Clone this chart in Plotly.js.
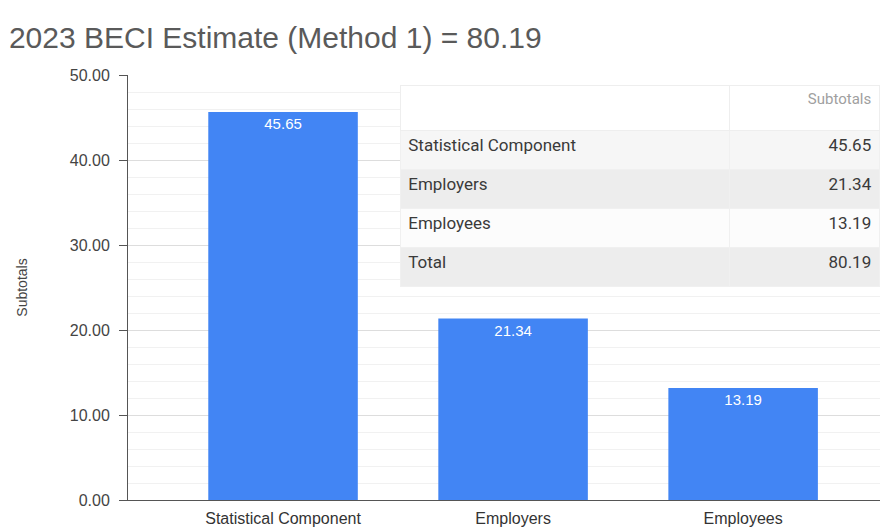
<!DOCTYPE html>
<html><head><meta charset="utf-8">
<script src="https://cdn.plot.ly/plotly-3.0.1.min.js"></script>
<style>html,body{margin:0;padding:0;background:#fff}#c{width:889px;height:532px}</style>
</head><body><div id="c"></div>
<script>
const categories = ["Statistical Component", "Employers", "Employees"];
const subtotals = [45.65, 21.34, 13.19];
const tableRows = ["Statistical Component", "Employers", "Employees", "Total"];
const tableValues = ["45.65", "21.34", "13.19", "80.19"];
const tableHeader = ["", "Subtotals"];
const titleText = "2023 BECI Estimate (Method 1) = 80.19";
const yTickVals = [0, 10, 20, 30, 40, 50];
const yTickText = ["0.00", "10.00", "20.00", "30.00", "40.00", "50.00"];

const bar = {
  type: "bar", x: [0, 1, 2], y: subtotals,
  text: subtotals.map(v => v.toFixed(2)),
  textposition: "inside", insidetextanchor: "end",
  textfont: {color: "#ffffff", size: 15, family: "Liberation Sans, Arial"},
  marker: {color: "#4285f4"}, width: 0.65, hoverinfo: "none"
};
const table = {
  type: "table",
  domain: {x: [0.362, 1.0], y: [0.494, 0.976]},
  columnwidth: [330, 150],
  header: {
    values: tableHeader, align: ["left", "right"], height: 45,
    fill: {color: "#ffffff"}, line: {color: "#eeeeee", width: 1},
    font: {color: "#a0a0a0", size: 15, family: "Roboto, Liberation Sans"}
  },
  cells: {
    values: [tableRows, tableValues], align: ["left", "right"], height: 39,
    fill: {color: [["#f6f6f6", "#ededed", "#fcfcfc", "#ededed"]]},
    line: {color: "#f0f0f0", width: 1},
    font: {color: "#3a3a3a", size: 17, family: "Roboto, Liberation Sans"}
  }
};
const layout = {
  width: 889, height: 532,
  margin: {l: 128, r: 9, t: 75, b: 32},
  paper_bgcolor: "#ffffff", plot_bgcolor: "#ffffff",
  showlegend: false,
  title: {text: titleText, x: 0.01, xanchor: "left", y: 0.929, yanchor: "middle",
    font: {size: 30, color: "#5a5a5a", family: "Liberation Sans, Arial"}},
  xaxis: {range: [-0.674, 2.595], tickvals: [0, 1, 2], ticktext: categories,
    showgrid: false, zeroline: false, showline: true, linecolor: "#555", linewidth: 1,
    ticks: "", ticklabelstandoff: 4, tickfont: {size: 16, color: "#333", family: "Liberation Sans, Arial"}},
  yaxis: {range: [0, 50], tickvals: yTickVals, ticktext: yTickText,
    showgrid: true, gridcolor: "#dddddd", zeroline: false,
    showline: true, linecolor: "#555", linewidth: 1,
    ticks: "outside", ticklen: 8, tickcolor: "#555", ticklabelstandoff: 6,
    minor: {dtick: 2, showgrid: true, gridcolor: "#f1f1f1", ticks: ""},
    tickfont: {size: 16, color: "#444", family: "Liberation Sans, Arial"},
    title: {text: "Subtotals", standoff: 38, font: {size: 14, color: "#444", family: "Liberation Sans, Arial"}}}
};
Plotly.newPlot("c", [bar, table], layout, {displayModeBar: false, staticPlot: true});
</script></body></html>
